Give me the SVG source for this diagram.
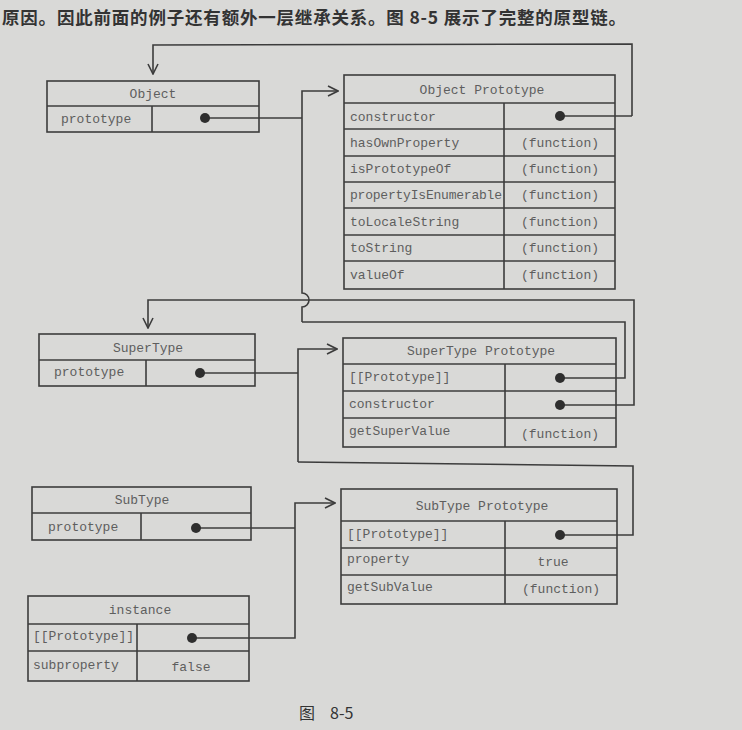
<svg xmlns="http://www.w3.org/2000/svg" width="742" height="730" viewBox="0 0 742 730">
<defs>
<style>
.bg{fill:#d9d9d7}
.box{fill:none;stroke:#3c3c3c;stroke-width:1.6}
.ln{fill:none;stroke:#3c3c3c;stroke-width:1.6}
.t{font-family:"Liberation Mono","DejaVu Sans Mono",monospace;font-size:13px;fill:#5e5e5e;dominant-baseline:central}
.c{text-anchor:middle}
.dot{fill:#2e2e2e}
.cn{font-family:"Noto Sans CJK SC","Noto Sans CJK JP",sans-serif;fill:#333}
</style>
<marker id="arr" viewBox="0 0 12 12" refX="11" refY="6" markerWidth="12" markerHeight="12" markerUnits="userSpaceOnUse" orient="auto">
<path d="M1,1 L11,6 L1,11" fill="none" stroke="#3c3c3c" stroke-width="1.6"/>
</marker>
</defs>
<rect class="bg" x="0" y="0" width="742" height="730"/>
<text class="cn" x="2" y="24" font-size="17.5" font-weight="bold" textLength="624" lengthAdjust="spacing">原因。因此前面的例子还有额外一层继承关系。图 8-5 展示了完整的原型链。</text>

<g id="connectors">
<path class="ln" d="M632,116 L632,44 L153,45 L153,74" marker-end="url(#arr)"/>
<line class="ln" x1="560" y1="116" x2="632" y2="116"/>
<path class="ln" d="M205,118 L302,118"/>
<path class="ln" d="M302,322 L302,307 A7,7 0 0 0 302,293 L302,91 L338,91" marker-end="url(#arr)"/>
<path class="ln" d="M560,378 L625,378 L625,322 L302,322"/>
<path class="ln" d="M560,405 L634,405 L634,300 L148,300 L148,328" marker-end="url(#arr)"/>
<path class="ln" d="M200,373 L298,373"/>
<path class="ln" d="M298,462 L298,349 L337,349" marker-end="url(#arr)"/>
<path class="ln" d="M298,462 L633,466 L633,535 L560,535"/>
<path class="ln" d="M196,528 L295,528"/>
<path class="ln" d="M192,638 L295,638 L295,503 L335,503" marker-end="url(#arr)"/>
</g>

<g id="object">
<rect class="box" x="47" y="81" width="212" height="51"/>
<line class="box" x1="47" y1="106" x2="259" y2="106"/>
<line class="box" x1="152" y1="106" x2="152" y2="132"/>
<text class="t c" x="153" y="94">Object</text>
<text class="t" x="61" y="119">prototype</text>
<circle class="dot" cx="205" cy="118" r="5"/>
</g>

<g id="object-prototype">
<rect class="box" x="344" y="75" width="271" height="214"/>
<line class="box" x1="344" y1="103" x2="615" y2="103"/>
<line class="box" x1="344" y1="129" x2="615" y2="129"/>
<line class="box" x1="344" y1="156" x2="615" y2="156"/>
<line class="box" x1="344" y1="182" x2="615" y2="182"/>
<line class="box" x1="344" y1="208" x2="615" y2="208"/>
<line class="box" x1="344" y1="235" x2="615" y2="235"/>
<line class="box" x1="344" y1="261" x2="615" y2="261"/>
<line class="box" x1="504" y1="103" x2="504" y2="289"/>
<text class="t c" x="482" y="90">Object Prototype</text>
<text class="t" x="350" y="117">constructor</text>
<text class="t" x="350" y="143">hasOwnProperty</text>
<text class="t" x="350" y="169">isPrototypeOf</text>
<text class="t" x="350" y="195" textLength="152">propertyIsEnumerable</text>
<text class="t" x="350" y="222">toLocaleString</text>
<text class="t" x="350" y="248">toString</text>
<text class="t" x="350" y="275">valueOf</text>
<text class="t c" x="560" y="143">(function)</text>
<text class="t c" x="560" y="169">(function)</text>
<text class="t c" x="560" y="195">(function)</text>
<text class="t c" x="560" y="222">(function)</text>
<text class="t c" x="560" y="248">(function)</text>
<text class="t c" x="560" y="275">(function)</text>
<circle class="dot" cx="560" cy="116" r="5"/>
</g>

<g id="supertype">
<rect class="box" x="39" y="334" width="216" height="52"/>
<line class="box" x1="39" y1="360" x2="255" y2="360"/>
<line class="box" x1="146" y1="360" x2="146" y2="386"/>
<text class="t c" x="148" y="348">SuperType</text>
<text class="t" x="54" y="372">prototype</text>
<circle class="dot" cx="200" cy="373" r="5"/>
</g>

<g id="supertype-prototype">
<rect class="box" x="343" y="338" width="273" height="109"/>
<line class="box" x1="343" y1="364" x2="616" y2="364"/>
<line class="box" x1="343" y1="391" x2="616" y2="391"/>
<line class="box" x1="343" y1="418" x2="616" y2="418"/>
<line class="box" x1="505" y1="364" x2="505" y2="447"/>
<text class="t c" x="481" y="351">SuperType Prototype</text>
<text class="t" x="349" y="377">[[Prototype]]</text>
<text class="t" x="349" y="404">constructor</text>
<text class="t" x="349" y="431">getSuperValue</text>
<text class="t c" x="560" y="434">(function)</text>
<circle class="dot" cx="560" cy="378" r="5"/>
<circle class="dot" cx="560" cy="405" r="5"/>
</g>

<g id="subtype">
<rect class="box" x="32" y="487" width="219" height="53"/>
<line class="box" x1="32" y1="513" x2="251" y2="513"/>
<line class="box" x1="141" y1="513" x2="141" y2="540"/>
<text class="t c" x="142" y="500">SubType</text>
<text class="t" x="48" y="527">prototype</text>
<circle class="dot" cx="196" cy="528" r="5"/>
</g>

<g id="subtype-prototype">
<rect class="box" x="341" y="489" width="276" height="115"/>
<line class="box" x1="341" y1="521" x2="617" y2="521"/>
<line class="box" x1="341" y1="548" x2="617" y2="548"/>
<line class="box" x1="341" y1="575" x2="617" y2="575"/>
<line class="box" x1="505" y1="521" x2="505" y2="604"/>
<text class="t c" x="482" y="506">SubType Prototype</text>
<text class="t" x="347" y="534">[[Prototype]]</text>
<text class="t" x="347" y="559">property</text>
<text class="t" x="347" y="587">getSubValue</text>
<text class="t c" x="553" y="562">true</text>
<text class="t c" x="561" y="589">(function)</text>
<circle class="dot" cx="560" cy="535" r="5"/>
</g>

<g id="instance">
<rect class="box" x="28" y="596" width="221" height="85"/>
<line class="box" x1="28" y1="624" x2="249" y2="624"/>
<line class="box" x1="28" y1="651" x2="249" y2="651"/>
<line class="box" x1="137" y1="624" x2="137" y2="681"/>
<text class="t c" x="140" y="610">instance</text>
<text class="t" x="33" y="636" textLength="101">[[Prototype]]</text>
<text class="t" x="33" y="665">subproperty</text>
<text class="t c" x="191" y="667">false</text>
<circle class="dot" cx="192" cy="638" r="5"/>
</g>

<text class="cn" x="299" y="719" font-size="16"><tspan>图</tspan><tspan x="330">8-5</tspan></text>
</svg>
